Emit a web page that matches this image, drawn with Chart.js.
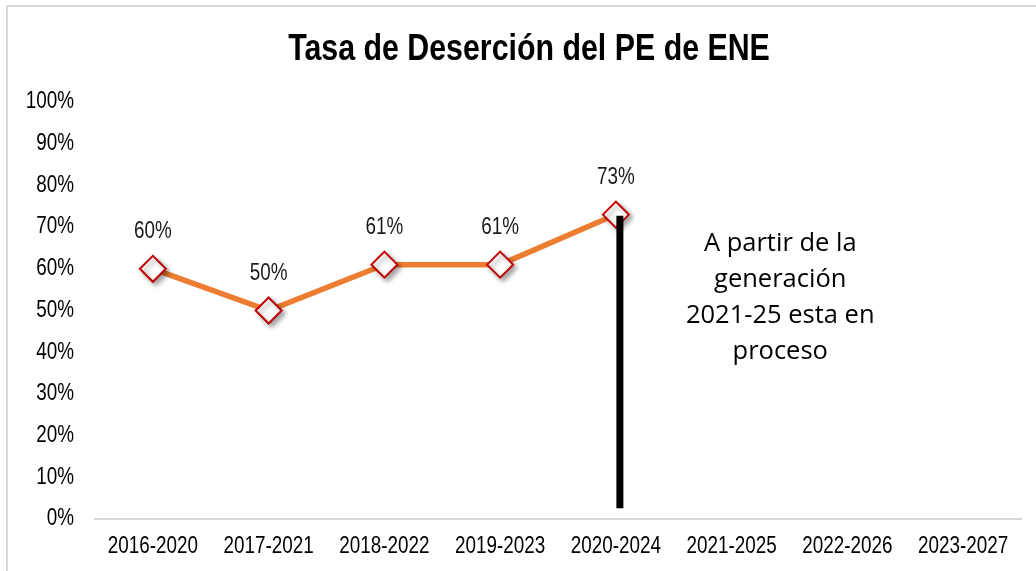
<!DOCTYPE html>
<html><head><meta charset="utf-8">
<script src="https://cdn.jsdelivr.net/npm/chart.js@4.4.1/dist/chart.umd.min.js"></script>
<style>
html,body{margin:0;padding:0;background:#fff;overflow:hidden;}
#wrap{position:relative;width:1036px;height:571px;overflow:hidden;}
#frame{position:absolute;left:6px;top:5px;width:1100px;height:700px;border:2px solid #d9d9d9;pointer-events:none;}
canvas{position:absolute;left:0;top:0;}
</style></head><body>
<div id="wrap"><canvas id="c" width="1036" height="571" role="img" aria-label="Tasa de Deserción del PE de ENE"></canvas><div id="frame"></div></div>
<script>
// ---- data ----
const categories = ['2016-2020','2017-2021','2018-2022','2019-2023','2020-2024','2021-2025','2022-2026','2023-2027'];
const desercion = [60, 50, 61, 61, 73, null, null, null];
const yTickValues = [0,10,20,30,40,50,60,70,80,90,100];
const chartTitle = 'Tasa de Deserción del PE de ENE';
const noteLines = ['A partir de la', 'generación', '2021-25 esta en', 'proceso'];
// vertical separator (data coordinates)
const separatorCategory = '2020-2024';
const separatorTop = 72.7;
const separatorBottom = 2.6;
// note anchor (data coordinates)
const noteCategoryPos = 5.42;
const noteValue = 53;

const SANS = '"Liberation Sans", Arial, sans-serif';
const NARROW_X = 0.82; // emulate Arial Narrow by horizontal compression

function narrowText(ctx, text, x, y, font, align, baseline, color) {
  ctx.save();
  ctx.font = font;
  ctx.fillStyle = color || '#000';
  ctx.textAlign = align;
  ctx.textBaseline = baseline;
  ctx.translate(x, y);
  ctx.scale(NARROW_X, 1);
  ctx.fillText(text, 0, 0);
  ctx.restore();
}

const separatorPlugin = {
  id: 'separator',
  afterDatasetsDraw(chart) {
    const {ctx, scales: {x, y}} = chart;
    const px = x.getPixelForValue(categories.indexOf(separatorCategory)) + 4;
    ctx.save();
    ctx.strokeStyle = '#000';
    ctx.lineWidth = 7;
    ctx.beginPath();
    ctx.moveTo(px, y.getPixelForValue(separatorTop));
    ctx.lineTo(px, y.getPixelForValue(separatorBottom));
    ctx.stroke();
    ctx.restore();
  }
};

const textPlugin = {
  id: 'texts',
  afterDraw(chart) {
    const {ctx, chartArea, scales: {x, y}} = chart;
    // title
    narrowText(ctx, chartTitle, chart.width / 2 + 11, 50, 'bold 37px ' + SANS, 'center', 'middle', '#000');
    // y ticks
    yTickValues.forEach(v => {
      narrowText(ctx, v + '%', chartArea.left - 21, y.getPixelForValue(v), '23px ' + SANS, 'right', 'middle', '#000');
    });
    // x ticks
    categories.forEach((c, i) => {
      narrowText(ctx, c, x.getPixelForValue(i), chartArea.bottom + 28, '23px ' + SANS, 'center', 'middle', '#000');
    });
    // point labels
    const meta = chart.getDatasetMeta(1);
    meta.data.forEach((pt, i) => {
      const v = desercion[i];
      if (v == null) return;
      narrowText(ctx, v + '%', pt.x, pt.y - 37, '23px ' + SANS, 'center', 'middle', '#1a1a1a');
    });
    // note text
    ctx.save();
    ctx.font = '25.5px "Open Sans", Lato, sans-serif';
    ctx.fillStyle = '#000';
    ctx.textAlign = 'center';
    ctx.textBaseline = 'middle';
    const cx = x.getPixelForValue(noteCategoryPos);
    const cy = y.getPixelForValue(noteValue);
    const lh = 36;
    const n = noteLines.length;
    noteLines.forEach((t, i) => {
      ctx.fillText(t, cx, cy + (i - (n - 1) / 2) * lh);
    });
    ctx.restore();
  }
};

const shadowPlugin = {
  id: 'markerShadow',
  beforeDatasetDraw(chart, args) {
    if (args.index === 1) {
      const ctx = chart.ctx;
      ctx.save();
      ctx.shadowColor = 'rgba(0,0,0,0.35)';
      ctx.shadowBlur = 5;
      ctx.shadowOffsetX = 3;
      ctx.shadowOffsetY = 3;
    }
  },
  afterDatasetDraw(chart, args) {
    if (args.index === 1) chart.ctx.restore();
  }
};

new Chart(document.getElementById('c'), {
  type: 'line',
  data: {
    labels: categories,
    datasets: [
      {
        data: desercion,
        borderColor: '#ED7D31',
        borderWidth: 5.5,
        pointRadius: 0,
        tension: 0,
        order: 2
      },
      {
        data: desercion,
        showLine: false,
        pointStyle: 'rectRot',
        pointRadius: 13,
        pointHoverRadius: 13,
        pointBackgroundColor: '#ffffff',
        pointBorderColor: '#C00000',
        pointBorderWidth: 2,
        order: 1
      }
    ]
  },
  options: {
    responsive: false,
    animation: false,
    events: [],
    layout: { padding: { left: 0, right: 6, top: 102, bottom: 0 } },
    plugins: {
      legend: { display: false },
      tooltip: { enabled: false },
      title: { display: false }
    },
    scales: {
      x: {
        offset: true,
        grid: { display: false, drawTicks: false },
        border: { display: true, color: '#d9d9d9', width: 2 },
        ticks: { display: false },
        afterFit(s) { s.height = 52; }
      },
      y: {
        min: 0, max: 100,
        grid: { display: false, drawTicks: false },
        border: { display: false },
        ticks: { display: false, stepSize: 10 },
        afterFit(s) { s.width = 95; }
      }
    }
  },
  plugins: [shadowPlugin, separatorPlugin, textPlugin]
});
</script>
</body></html>
